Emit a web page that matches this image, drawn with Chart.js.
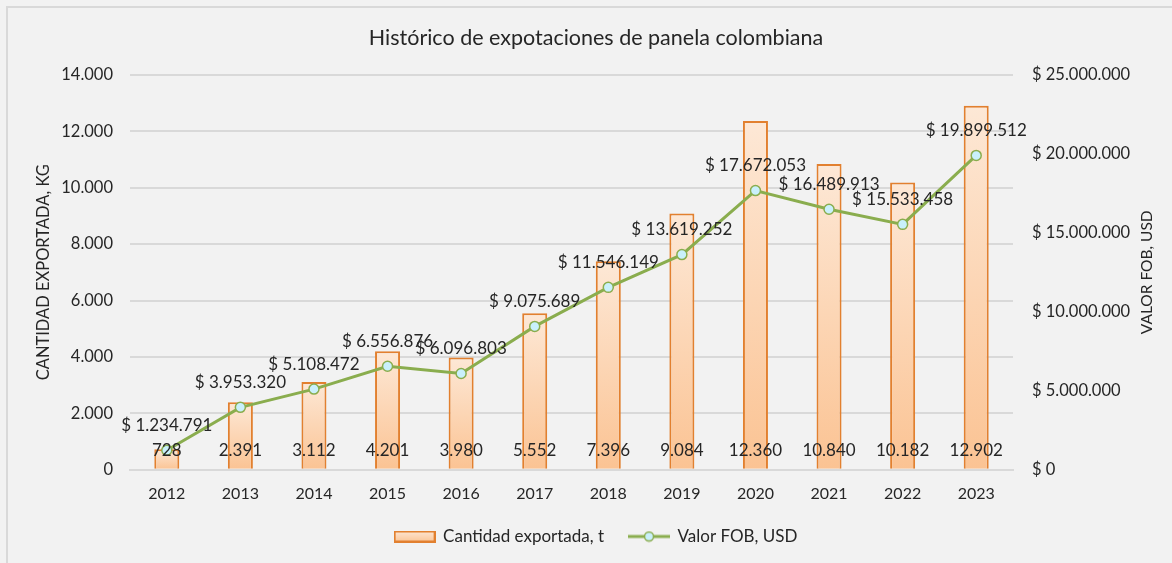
<!DOCTYPE html>
<html>
<head>
<meta charset="utf-8">
<script src="https://cdn.jsdelivr.net/npm/chart.js@4"></script>
<style>
  html, body { margin: 0; padding: 0; background: #f2f2f2; overflow: hidden; }
  #frame { position: absolute; left: 6px; top: 6px; width: 1200px; height: 600px; border: 2px solid #d9d9d9; box-sizing: border-box; }
  #wrap { position: absolute; left: 0; top: 0; width: 1172px; height: 563px; }
</style>
</head>
<body>
<div id="frame"></div>
<div id="wrap"><canvas id="chart"></canvas></div>
<script>
// datos del gráfico
const years = ['2012', '2013', '2014', '2015', '2016', '2017', '2018', '2019', '2020', '2021', '2022', '2023'];
const cantidad = [728, 2391, 3112, 4201, 3980, 5552, 7396, 9084, 12360, 10840, 10182, 12902];
const valorFob = [1234791, 3953320, 5108472, 6556876, 6096803, 9075689, 11546149, 13619252, 17672053, 16489913, 15533458, 19899512];

const FONT = 'Lato, "Open Sans", sans-serif';
const TXT = '#262626';
const ORANGE = '#e2802f';
const GREEN = '#8aad4e';
const CYAN = '#c9f0fb';

function fmt(n) {
    return String(n).replace(/\B(?=(\d{3})+(?!\d))/g, '.');
}

// degradado de cada barra (claro arriba, más naranja abajo)
function barGradient(ctx) {
    const chart = ctx.chart;
    if (!chart.chartArea || ctx.type !== 'data') return '#fcd5b4';
    const y = chart.scales.y;
    const top = y.getPixelForValue(ctx.raw);
    const bottom = y.getPixelForValue(0);
    const g = chart.ctx.createLinearGradient(0, top, 0, bottom);
    g.addColorStop(0, '#fde8d6');
    g.addColorStop(1, '#fbc393');
    return g;
}

// iconos de la leyenda
function legendBox() {
    const c = document.createElement('canvas');
    c.width = 42; c.height = 12;
    const x = c.getContext('2d');
    const g = x.createLinearGradient(0, 0, 0, 12);
    g.addColorStop(0, '#fde8d6');
    g.addColorStop(1, '#fbc393');
    x.fillStyle = g;
    x.fillRect(1, 1, 40, 10);
    x.strokeStyle = ORANGE;
    x.lineWidth = 2;
    x.strokeRect(1, 1, 40, 10);
    return c;
}
function legendLine() {
    const c = document.createElement('canvas');
    c.width = 42; c.height = 12;
    const x = c.getContext('2d');
    x.strokeStyle = GREEN;
    x.lineWidth = 3;
    x.beginPath(); x.moveTo(0, 6); x.lineTo(42, 6); x.stroke();
    x.fillStyle = CYAN;
    x.lineWidth = 1.5;
    x.beginPath(); x.arc(21, 6, 4.5, 0, Math.PI * 2); x.fill(); x.stroke();
    return c;
}

// etiquetas de datos y título del eje derecho
const labelsPlugin = {
    id: 'labels',
    afterDatasetsDraw(chart) {
        const ctx = chart.ctx;
        const base = chart.scales.y.getPixelForValue(0);
        ctx.save();
        ctx.font = '17px ' + FONT;
        ctx.fillStyle = TXT;
        ctx.textAlign = 'center';
        ctx.textBaseline = 'middle';
        chart.getDatasetMeta(0).data.forEach((bar, i) => {
            ctx.fillText(fmt(cantidad[i]), bar.x, base - 19);
        });
        chart.getDatasetMeta(1).data.forEach((pt, i) => {
            ctx.fillText('$ ' + fmt(valorFob[i]), pt.x, pt.y - 25);
        });
        // título eje derecho, leído de abajo hacia arriba
        const area = chart.chartArea;
        ctx.font = '15.5px ' + FONT;
        ctx.translate(1147, (area.top + area.bottom) / 2);
        ctx.rotate(-Math.PI / 2);
        ctx.fillText('VALOR FOB, USD', 0, 0);
        ctx.restore();
    }
};

const ctx = document.getElementById('chart').getContext('2d');
const chart = new Chart(ctx, {
    data: {
        labels: years,
        datasets: [{
            type: 'bar',
            label: 'Cantidad exportada, t',
            data: cantidad,
            yAxisID: 'y',
            backgroundColor: barGradient,
            borderColor: ORANGE,
            borderWidth: 2,
            barPercentage: 0.34,
            categoryPercentage: 1,
            order: 1
        }, {
            type: 'line',
            label: 'Valor FOB, USD',
            data: valorFob,
            yAxisID: 'y2',
            borderColor: GREEN,
            borderWidth: 3,
            pointRadius: 5,
            pointBorderWidth: 1.5,
            pointBackgroundColor: CYAN,
            pointBorderColor: GREEN,
            tension: 0,
            order: 0
        }]
    },
    options: {
        responsive: true,
        maintainAspectRatio: false,
        animation: false,
        layout: { padding: { left: 20, right: 0, top: 0, bottom: 8 } },
        plugins: {
            title: {
                display: true,
                text: 'Histórico de expotaciones de panela colombiana',
                color: TXT,
                font: { family: FONT, size: 21.5, weight: 'normal' },
                padding: { top: 25, bottom: 24 }
            },
            legend: {
                position: 'bottom',
                labels: {
                    color: TXT,
                    font: { family: FONT, size: 17 },
                    usePointStyle: true,
                    pointStyleWidth: 40,
                    padding: 25,
                    generateLabels: () => [
                        { text: 'Cantidad exportada, t', pointStyle: legendBox(), fontColor: TXT, datasetIndex: 0 },
                        { text: 'Valor FOB, USD', pointStyle: legendLine(), fontColor: TXT, datasetIndex: 1 }
                    ]
                }
            },
            tooltip: { enabled: false }
        },
        scales: {
            x: {
                afterFit: s => { s.height -= 14; },
                grid: { display: false, drawTicks: false },
                border: { color: '#d9d9d9', width: 2 },
                ticks: { color: TXT, font: { family: FONT, size: 16 }, padding: 14 }
            },
            y: {
                position: 'left',
                min: 0,
                max: 14000,
                afterFit: s => { s.width = 110; },
                border: { display: false },
                grid: { color: '#d9d9d9', lineWidth: 2, drawTicks: false },
                ticks: { stepSize: 2000, color: TXT, font: { family: FONT, size: 16.5 }, padding: 17, callback: v => fmt(v) },
                title: { display: true, text: 'CANTIDAD EXPORTADA, KG', color: TXT, font: { family: FONT, size: 16.5 }, padding: { top: 14 } }
            },
            y2: {
                position: 'right',
                min: 0,
                max: 25000000,
                afterFit: s => { s.width = 159; },
                border: { display: false },
                grid: { display: false, drawTicks: false },
                ticks: { stepSize: 5000000, color: TXT, font: { family: FONT, size: 16.5 }, padding: 19, callback: v => '$ ' + fmt(v) }
            }
        }
    },
    plugins: [labelsPlugin]
});
</script>
</body>
</html>
